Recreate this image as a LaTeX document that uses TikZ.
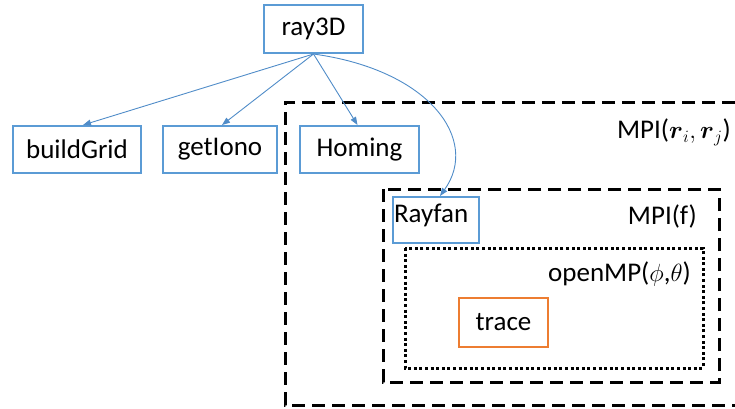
\documentclass[tikz,border=0pt]{standalone}
\usepackage{amsmath}
\usepackage{fontspec}
\setmainfont{Carlito}
\usetikzlibrary{arrows.meta}
\definecolor{boxblue}{RGB}{91,155,213}
\definecolor{arrblue}{RGB}{80,140,200}
\definecolor{boxorange}{RGB}{237,125,49}
\tikzset{
  fbox/.style={draw=boxblue, line width=2pt, fill=white, inner sep=0pt, font=\fontsize{27}{32}\selectfont},
  obox/.style={draw=boxorange, line width=2pt, fill=white, inner sep=0pt, font=\fontsize{27}{32}\selectfont},
  conn/.style={draw=arrblue, line width=0.9pt, -{Triangle[length=8pt,width=6pt]}},
  bigdash/.style={draw=black, line width=3pt, dash pattern=on 13pt off 7pt},
  smalldot/.style={draw=black, line width=3pt, dash pattern=on 3pt off 2.6pt},
  lbl/.style={inner sep=0pt, font=\fontsize{27}{32}\selectfont}
}
\begin{document}
\begin{tikzpicture}[x=1pt,y=-1pt]
\useasboundingbox (0,0) rectangle (735,408);
% outer MPI region (extends beyond the picture)
\draw[bigdash] (735,102) -- (285,102) -- (285,405) -- (735,405);
\node[lbl, anchor=east] (mpirr) at (731,132) {MPI($\boldsymbol{r}_i,\boldsymbol{r}_j$)};
% inner MPI(f)
\draw[bigdash] (383,189) rectangle (719,382);
\node[lbl, anchor=east] (mpif) at (697,216) {MPI(f)};
% openMP
\draw[smalldot] (405,248) rectangle (703,368);
\node[lbl, anchor=east] (omp) at (691,274) {openMP($\phi$,$\theta$)};
% boxes
\node[fbox, minimum width=99pt, minimum height=48pt] (ray) at (313.5,29) {ray3D};
\node[fbox, minimum width=128pt, minimum height=47pt] (bg) at (77,149.5) {buildGrid};
\node[fbox, minimum width=114pt, minimum height=47pt] (gi) at (220,149.5) {getIono};
\node[fbox, minimum width=119pt, minimum height=47pt] (hm) at (359.5,149.5) {Homing};
\node[fbox, minimum width=86pt, minimum height=46pt, text depth=14pt, text height=18pt, text width=84pt, align=left] (rf) at (436,220) {Rayfan};
\node[obox, minimum width=89pt, minimum height=49pt] (tr) at (503.5,322.5) {trace};
% connectors
\draw[conn] (ray.south) -- ([xshift=6pt]bg.north);
\draw[conn] (ray.south) -- ([xshift=2pt]gi.north);
\draw[conn] (ray.south) -- ([xshift=-2pt]hm.north);
\draw[conn] (ray.south) .. controls (430,70) and (480,140) .. ([xshift=4pt]rf.north);
\end{tikzpicture}
\end{document}
